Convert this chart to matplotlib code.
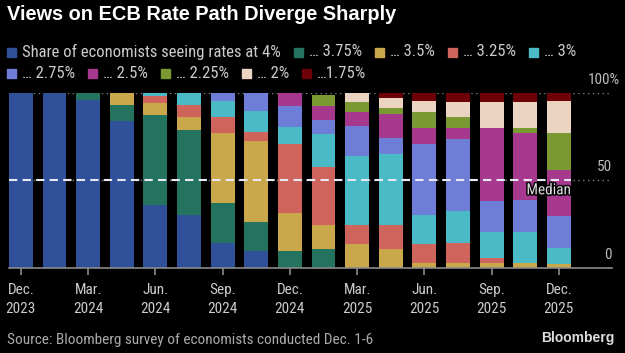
import matplotlib
matplotlib.use("Agg")
import matplotlib.pyplot as plt
import matplotlib.transforms as mtransforms
import matplotlib.patheffects as pe
from matplotlib import font_manager as fm
from matplotlib.patches import Rectangle
import numpy as np

# survey dates (every other one is labelled)
tick_labels = ["Dec.\n2023", "Mar.\n2024", "Jun.\n2024", "Sep.\n2024", "Dec.\n2024",
               "Mar.\n2025", "Jun.\n2025", "Sep.\n2025", "Dec.\n2025"]

legend_labels = ["Share of economists seeing rates at 4%", "\u2026 3.75%", "\u2026 3.5%",
                 "\u2026 3.25%", "\u2026 3%", "\u2026 2.75%", "\u2026 2.5%", "\u2026 2.25%",
                 "\u2026 2%", "\u20261.75%"]
colors = ["#30509a", "#23735f", "#c9a74a", "#cf645d", "#49bac6",
          "#6e7dd5", "#a6388e", "#7a9933", "#ecd4c2", "#6e0008"]

# share of economists (%) per rate level, one value per survey date
rate_400 = [100, 100, 96, 84, 36, 30, 14, 9.5, 0, 0, 0, 0, 0, 0, 0, 0, 0]
rate_375 = [0, 0, 4, 9, 51, 49, 23, 17, 9.5, 10.6, 0, 0, 0, 0, 0, 0, 0]
rate_350 = [0, 0, 0, 7, 7, 7, 40, 46, 22, 14, 13.7, 10.6, 2.7, 2.7, 3, 2.7, 2.4]
rate_325 = [0, 0, 0, 0, 4, 7, 9, 5, 39, 33, 10.8, 13.9, 10.8, 11.8, 2.5, 0, 0]
rate_300 = [0, 0, 0, 0, 2, 7, 9, 12, 10, 19, 39.4, 40.3, 17, 18, 15.2, 18, 9.2]
rate_275 = [0, 0, 0, 0, 0, 0, 5, 10.5, 12, 8, 17, 9.2, 40.4, 41.1, 17.7, 18.1, 18.2]
rate_250 = [0, 0, 0, 0, 0, 0, 0, 0, 7.5, 8, 8, 14, 9, 6, 41.3, 38, 26.1]
rate_225 = [0, 0, 0, 0, 0, 0, 0, 0, 0, 6, 6, 3, 9.2, 6.4, 0, 2.9, 21.3]
rate_200 = [0, 0, 0, 0, 0, 0, 0, 0, 0, 0, 5.1, 5.7, 6, 8.9, 15.2, 15.2, 17.9]
rate_175 = [0, 0, 0, 0, 0, 0, 0, 0, 0, 0, 0, 3.3, 4.9, 5.1, 5.1, 5.1, 4.9]

series = [rate_400, rate_375, rate_350, rate_325, rate_300,
          rate_275, rate_250, rate_225, rate_200, rate_175]


def pick_narrow():
    # use a condensed face if one is installed, else plain Liberation Sans
    for fam, stretch in [("Liberation Sans Narrow", "normal"), ("Roboto Condensed", "normal"),
                         ("DejaVu Sans", "condensed"), ("Open Sans", "condensed")]:
        try:
            path = fm.findfont(fm.FontProperties(family=fam, stretch=stretch),
                               fallback_to_default=False)
        except Exception:
            continue
        low = path.lower()
        if "narrow" in low or "condensed" in low:
            return fam, stretch, 11
    return "Liberation Sans", "normal", 10


NFAM, NSTRETCH, NSIZE = pick_narrow()
NARROW = dict(family=[NFAM, "DejaVu Sans"], fontstretch=NSTRETCH)
BOLD = ["Liberation Sans", "DejaVu Sans"]

W, H = 625, 353
fig = plt.figure(figsize=(W / 100, H / 100), dpi=100, facecolor="black")
ax = fig.add_axes([9 / W, 85 / H, 603 / W, 175.3 / H], facecolor="black")

n = len(rate_400)
x = np.arange(n)
width = 0.71
bottom = np.zeros(n)
for vals, col in zip(series, colors):
    ax.bar(x, vals, width, bottom=bottom, color=col, zorder=2)
    bottom += np.array(vals)

ax.set_xlim(x[0] - width / 2, 17.58)
ax.set_ylim(0, 100)

# dotted grid lines
for v in (50, 100):
    ax.axhline(v, color="#808080", lw=1, ls=(0, (1, 2.5)), zorder=1)

# median line
ax.hlines(50, x[0] - width / 2, x[-1] + width / 2, colors="#e8e8f4", lw=1.5,
          linestyles=(0, (4, 2.5)), zorder=3)
ax.text(x[-1] + width / 2, 50, "Median", ha="right", va="center", fontsize=NSIZE,
        color="#dddddd", zorder=4, **NARROW,
        transform=mtransforms.offset_copy(ax.transData, fig=fig, y=-10, units="dots"),
        path_effects=[pe.withStroke(linewidth=2, foreground="black")])

# y labels sit above their lines on the right
ylab_tr = mtransforms.offset_copy(ax.get_yaxis_transform(), fig=fig, y=13, units="dots")
for v, lab, xo in [(0, "0", 1.0), (50, "50", 1.0), (100, "100%", 1.0 + 8 / 603)]:
    ax.text(xo, v, lab, ha="right", va="center", fontsize=NSIZE, color="#bbbbbb",
            transform=ylab_tr, **NARROW)

ax.set_yticks([])
ax.set_xticks(x[::2])
ax.set_xticklabels(tick_labels, fontsize=NSIZE, color="#cccccc",
                   linespacing=1.45, **NARROW)
ax.tick_params(axis="x", colors="#8a8a8a", length=5, width=1.2, pad=6,
               labelcolor="#cccccc")
for s in ["top", "right", "left"]:
    ax.spines[s].set_visible(False)
ax.spines["bottom"].set_color("#8a8a8a")
ax.spines["bottom"].set_linewidth(1.2)

# title
fig.text(7 / W, 1 - 15 / H, "Views on ECB Rate Path Diverge Sharply", fontsize=14.4,
         fontweight="bold", color="white", family=BOLD, va="center")

# legend laid out as flowing text
renderer = fig.canvas.get_renderer()
lx, ly = 7, 52
for i, (lab, col) in enumerate(zip(legend_labels, colors)):
    if i == 5:
        lx, ly = 7, 73
    fig.patches.append(Rectangle((lx / W, (H - ly - 4.5) / H), 9 / W, 9 / H,
                                 transform=fig.transFigure, color=col))
    t = fig.text((lx + 15) / W, (H - ly) / H, lab, va="center", fontsize=NSIZE + 1,
                 color="#cccccc", **NARROW)
    bb = t.get_window_extent(renderer)
    lx = bb.x1 + 13

# footer
fig.text(7 / W, 1 - 340 / H, "Source: Bloomberg survey of economists conducted Dec. 1-6",
         fontsize=NSIZE, color="#aaaaaa", va="center", **NARROW)
fig.text(615 / W, 1 - 338 / H, "Bloomberg", fontsize=10, fontweight="bold",
         color="#dddddd", family=BOLD, ha="right", va="center")

fig.savefig("out.png", dpi=100, facecolor="black")
